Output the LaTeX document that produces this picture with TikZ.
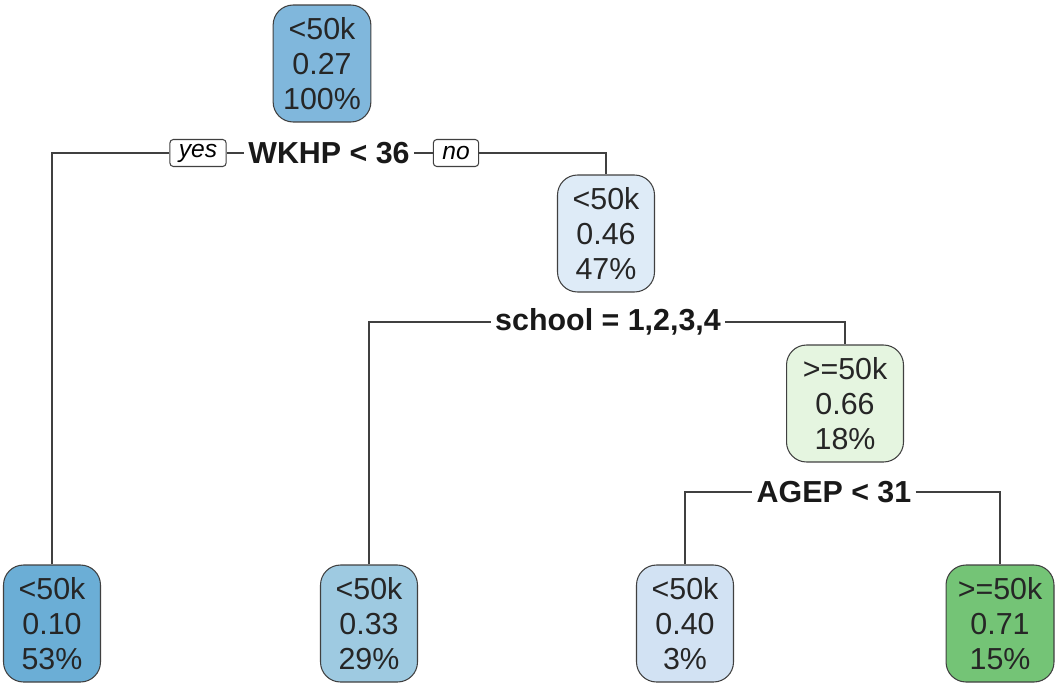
\documentclass[tikz,border=0pt]{standalone}
\usepackage{fontspec}
\setmainfont{Liberation Sans}
\usetikzlibrary{positioning}
\definecolor{blueDark}{RGB}{107,174,214}
\definecolor{blueMid}{RGB}{128,183,220}
\definecolor{blueSoft}{RGB}{158,202,225}
\definecolor{bluePale}{RGB}{222,235,247}
\definecolor{blueLight}{RGB}{210,226,243}
\definecolor{greenPale}{RGB}{229,245,224}
\definecolor{greenDark}{RGB}{116,196,118}
\tikzset{
  treenode/.style={draw=black!75, line width=0.6pt, rounded corners=0.4cm, align=center,
    minimum width=1.94cm, minimum height=2.34cm, inner xsep=0.2cm, inner ysep=0pt,
    text=black!85, font=\fontsize{17.3}{19.9}\selectfont},
  splitlabel/.style={inner xsep=0.08cm, inner ysep=2pt, text=black!90,
    font=\fontsize{17.3}{20}\selectfont\bfseries},
  branchtag/.style={draw=black!75, line width=0.6pt, rounded corners=2pt, inner xsep=0.18cm,
    minimum height=0.54cm, inner ysep=0pt, font=\fontsize{14}{16}\selectfont\itshape},
  branch/.style={draw=black!75, line width=0.85pt}
}

\begin{document}
\begin{tikzpicture}[x=0.02cm, y=-0.02cm]
\useasboundingbox (0,0) rectangle (1060,686);

\node[treenode, fill=blueMid]                      (rootNode)    at ( 322, 63.5) {<50k\\0.27\\100\%};
\node[treenode, fill=bluePale]                     (wkhpNoNode)  at ( 606,233.5) {<50k\\0.46\\47\%};
\node[treenode, fill=greenPale, minimum width=2.34cm] (schoolNoNode) at ( 845,403.5) {>=50k\\0.66\\18\%};
\node[treenode, fill=blueDark]                     (wkhpLeaf)    at (  52,623.5) {<50k\\0.10\\53\%};
\node[treenode, fill=blueSoft]                     (schoolLeaf)  at ( 369,623.5) {<50k\\0.33\\29\%};
\node[treenode, fill=blueLight]                    (agepLeaf)    at ( 685,623.5) {<50k\\0.40\\3\%};
\node[treenode, fill=greenDark, minimum width=2.16cm] (agepOldLeaf) at (1000,623.5) {>=50k\\0.71\\15\%};

\node[branchtag]  (yesTag)       at ( 198,153) {yes};
\node[splitlabel] (wkhpSplit)    at ( 329,153) {WKHP < 36};
\node[branchtag]  (noTag)        at ( 456,153) {no};
\node[splitlabel] (schoolSplit)  at ( 608,322) {school = 1,2,3,4};
\node[splitlabel] (agepSplit)    at ( 834,492) {AGEP < 31};

\draw[branch] (wkhpLeaf.north) |- (yesTag.west);
\draw[branch] (yesTag.east) -- (wkhpSplit.west);
\draw[branch] (wkhpSplit.east) -- (noTag.west);
\draw[branch] (noTag.east) -| (wkhpNoNode.north);
\draw[branch] (schoolLeaf.north) |- (schoolSplit.west);
\draw[branch] (schoolSplit.east) -| (schoolNoNode.north);
\draw[branch] (agepLeaf.north) |- (agepSplit.west);
\draw[branch] (agepSplit.east) -| (agepOldLeaf.north);
\end{tikzpicture}
\end{document}
